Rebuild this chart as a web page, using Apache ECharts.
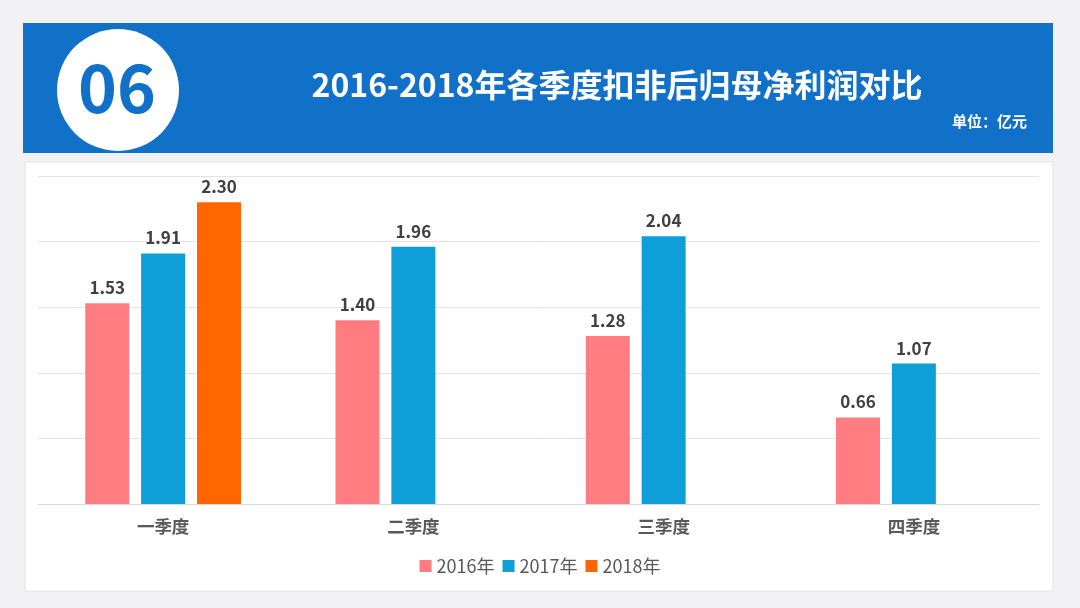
<!DOCTYPE html>
<html><head><meta charset="utf-8">
<script src="https://cdn.jsdelivr.net/npm/echarts@6/dist/echarts.min.js"></script>
<style>html,body{margin:0;padding:0;background:#f2f2f4;}#c{width:1080px;height:608px;}</style>
</head><body><div id="c"></div>
<script>
const categories = ['一季度','二季度','三季度','四季度'];
const seriesNames = ['2016年','2017年','2018年'];
const v2016 = [1.53, 1.40, 1.28, 0.66];
const v2017 = [1.91, 1.96, 2.04, 1.07];
const v2018 = [2.30, null, null, null];
const colors = ['#FF7C80','#0E9FD8','#FF6600'];
const font = '"Noto Sans CJK SC","Noto Sans",sans-serif';

const chart = echarts.init(document.getElementById('c'));
const mk = (name, data, color) => ({
  name, type:'bar', data, barWidth:44, barGap:'27%',
  itemStyle:{color},
  label:{show:true, position:'top', distance:7, formatter:p=>p.value==null?'':p.value.toFixed(2),
    color:'#404040', fontSize:17, fontWeight:'bold', fontFamily:font}
});
chart.setOption({
  backgroundColor:'#f2f2f4',
  animation:false,
  graphic:[
    {type:'rect', shape:{x:25,y:162,width:1028,height:429}, style:{fill:'#ffffff', stroke:'#e2e2e6', lineWidth:1}, z:-10},
    {type:'rect', shape:{x:23,y:23,width:1030,height:130}, style:{fill:'#1170C8'}},
    {type:'circle', shape:{cx:118,cy:90,r:61}, style:{fill:'#ffffff'}},
    {type:'text', x:117, y:88, style:{text:'06', fill:'#1170C8', font:'bold 66px '+font, textAlign:'center', textVerticalAlign:'middle'}},
    {type:'text', x:617, y:85, style:{text:'2016-2018年各季度扣非后归母净利润对比', fill:'#ffffff', font:'bold 32px '+font, textAlign:'center', textVerticalAlign:'middle'}},
    {type:'text', x:1027, y:121, style:{text:'单位：亿元', fill:'#ffffff', font:'bold 15px '+font, textAlign:'right', textVerticalAlign:'middle'}}
  ],
  legend:{data:seriesNames, bottom:28, left:'center', itemWidth:12, itemHeight:12, itemGap:8, icon:'rect',
    textStyle:{color:'#595959', fontSize:18, fontFamily:font}},
  grid:{left:38, right:41, top:176, bottom:104},
  xAxis:{type:'category', data:categories,
    axisLine:{lineStyle:{color:'#d9d9d9'}}, axisTick:{show:false},
    axisLabel:{color:'#595959', fontSize:17.5, fontWeight:'bold', margin:14, fontFamily:font}},
  yAxis:{type:'value', min:0, max:2.5, interval:0.5,
    axisLabel:{show:false}, axisLine:{show:false}, axisTick:{show:false},
    splitLine:{lineStyle:{color:'#e3e3e3', width:1}}},
  series:[mk(seriesNames[0], v2016, colors[0]), mk(seriesNames[1], v2017, colors[1]), mk(seriesNames[2], v2018, colors[2])]
});
</script></body></html>
